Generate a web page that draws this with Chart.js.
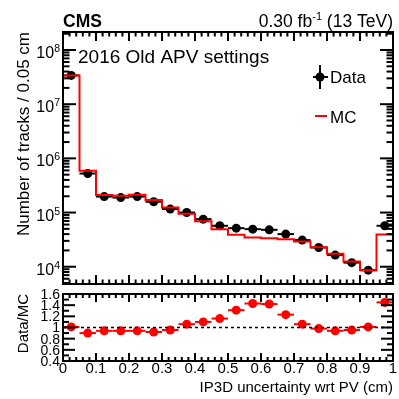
<!DOCTYPE html>
<html>
<head>
<meta charset="utf-8">
<script src="https://cdn.jsdelivr.net/npm/chart.js@4/dist/chart.umd.min.js"></script>
<style>
  html, body { margin: 0; padding: 0; background: #fff; }
  #wrap { position: relative; width: 399px; height: 399px; }
  canvas { position: absolute; left: 0; top: 0; }
</style>
</head>
<body>
<div id="wrap">
  <canvas id="main" width="399" height="399"></canvas>
  <canvas id="ratio" width="399" height="399"></canvas>
</div>
<script>
// bins of IP3D uncertainty (cm), lower edges, width 0.05
const binLow = [0, 0.05, 0.10, 0.15, 0.20, 0.25, 0.30, 0.35, 0.40, 0.45,
                0.50, 0.55, 0.60, 0.65, 0.70, 0.75, 0.80, 0.85, 0.90, 0.95];
const binWidth = 0.05;

// tracks per bin
const dataCounts = [3.4e7, 5.25e5, 1.97e5, 1.89e5, 1.97e5, 1.58e5, 1.16e5, 1.0e5, 7.55e4, 5.7e4,
                    5.15e4, 4.94e4, 4.8e4, 4.0e4, 3.1e4, 2.26e4, 1.64e4, 1.19e4, 8.65e3, 5.7e4];
const mcCounts   = [3.4e7, 5.9e5, 2.1e5, 2.05e5, 2.12e5, 1.7e5, 1.24e5, 0.95e5, 6.9e4, 4.9e4,
                    3.9e4, 3.46e4, 3.37e4, 3.23e4, 2.92e4, 2.3e4, 1.74e4, 1.25e4, 8.6e3, 3.93e4];

// Data/MC ratio per bin
const ratioValues = [1.01, 0.90, 0.94, 0.94, 0.94, 0.92, 0.955, 1.06, 1.10, 1.16,
                     1.31, 1.43, 1.42, 1.23, 1.06, 0.98, 0.94, 0.955, 1.01, 1.45];

// tick labels
const xTickLabels = ['0', '0.1', '0.2', '0.3', '0.4', '0.5', '0.6', '0.7', '0.8', '0.9', '1'];
const yTickExponents = ['4', '5', '6', '7', '8'];
const ratioTickLabels = ['0.4', '0.6', '0.8', '1', '1.2', '1.4', '1.6'];

const FONT = '"Liberation Sans", Arial, Helvetica, sans-serif';

function line(ctx, x1, y1, x2, y2) {
  ctx.beginPath();
  ctx.moveTo(x1, y1);
  ctx.lineTo(x2, y2);
  ctx.stroke();
}

// horizontal bin-width error bars
const errorBars = {
  id: 'errorBars',
  beforeDatasetsDraw(chart, args, opts) {
    const ctx = chart.ctx, xs = chart.scales.x, ys = chart.scales.y;
    ctx.save();
    ctx.strokeStyle = opts.color;
    ctx.lineWidth = 2;
    opts.values.forEach((v, i) => {
      const y = ys.getPixelForValue(v);
      line(ctx, xs.getPixelForValue(binLow[i]), y, xs.getPixelForValue(binLow[i] + binWidth), y);
    });
    ctx.restore();
  }
};

// ROOT style frame with inward ticks on all sides
const frame = {
  id: 'frame',
  afterDraw(chart, args, opts) {
    const ctx = chart.ctx, a = chart.chartArea;
    const xs = chart.scales.x, ys = chart.scales.y;
    ctx.save();
    ctx.strokeStyle = '#000';
    ctx.fillStyle = '#000';
    ctx.lineWidth = 2;
    ctx.strokeRect(a.left, a.top, a.right - a.left, a.bottom - a.top);

    // x ticks: major 0.1, minor 0.02
    for (let k = 0; k <= 50; k++) {
      const px = xs.getPixelForValue(k * 0.02);
      const len = k % 5 === 0 ? opts.xMajor : opts.xMajor / 2;
      line(ctx, px, a.bottom, px, a.bottom - len);
      line(ctx, px, a.top, px, a.top + len);
    }
    // y ticks
    opts.yTicks.forEach(t => {
      const py = ys.getPixelForValue(t.v);
      if (py < a.top - 0.5 || py > a.bottom + 0.5) return;
      const len = t.major ? opts.yMajor : opts.yMajor / 2;
      line(ctx, a.left, py, a.left + len, py);
      line(ctx, a.right, py, a.right - len, py);
    });

    if (opts.draw) opts.draw(ctx, chart);
    ctx.restore();
  }
};

const logTicks = [];
for (let d = 3; d <= 8; d++) {
  for (let m = 1; m <= 9; m++) logTicks.push({ v: m * Math.pow(10, d), major: m === 1 });
}

const ratioTicks = [];
for (let k = 4; k <= 16; k++) ratioTicks.push({ v: k / 10, major: k % 2 === 0 });

function drawMainText(ctx, chart) {
  const ys = chart.scales.y;
  ctx.textBaseline = 'alphabetic';
  // y tick labels 10^n
  yTickExponents.forEach(e => {
    const py = ys.getPixelForValue(Math.pow(10, +e));
    ctx.font = '10.5px ' + FONT;
    const ew = ctx.measureText(e).width;
    ctx.textAlign = 'left';
    ctx.fillText(e, 60 - ew, py + 2);
    ctx.font = '16px ' + FONT;
    ctx.textAlign = 'right';
    ctx.fillText('10', 60 - ew, py + 8);
  });

  // y title
  ctx.save();
  ctx.translate(29, 32);
  ctx.rotate(-Math.PI / 2);
  ctx.font = '17px ' + FONT;
  ctx.textAlign = 'right';
  ctx.fillText('Number of tracks / 0.05 cm', 0, 0);
  ctx.restore();

  // CMS label and luminosity
  ctx.textAlign = 'left';
  ctx.font = 'bold 17.5px ' + FONT;
  ctx.fillText('CMS', 63, 27);

  const p1 = '0.30 fb', p3 = ' (13 TeV)';
  ctx.font = '11px ' + FONT;
  const w2 = ctx.measureText('-1').width;
  ctx.font = '17.5px ' + FONT;
  const w3 = ctx.measureText(p3).width;
  const w1 = ctx.measureText(p1).width;
  const x0 = 393 - w1 - w2 - w3;
  ctx.fillText(p1, x0, 27);
  ctx.font = '11px ' + FONT;
  ctx.fillText('-1', x0 + w1, 20);
  ctx.font = '17.5px ' + FONT;
  ctx.fillText(p3, x0 + w1 + w2, 27);

  ctx.font = '19px ' + FONT;
  ctx.fillText('2016 Old APV settings', 78, 63);

  // legend
  ctx.lineWidth = 2;
  line(ctx, 320, 65, 320, 89);
  line(ctx, 313, 77, 328, 77);
  ctx.beginPath();
  ctx.arc(320, 77, 4.5, 0, Math.PI * 2);
  ctx.fill();
  ctx.font = '17px ' + FONT;
  ctx.fillText('Data', 330, 83);
  ctx.strokeStyle = '#ff0000';
  line(ctx, 315, 116, 327, 116);
  ctx.fillText('MC', 330, 123);
}

function drawRatioText(ctx, chart) {
  const xs = chart.scales.x, ys = chart.scales.y, a = chart.chartArea;
  // dashed line at 1
  ctx.save();
  ctx.setLineDash([3, 3]);
  ctx.lineWidth = 1.5;
  const y1 = ys.getPixelForValue(1);
  line(ctx, a.left, y1, a.right, y1);
  ctx.restore();

  ctx.font = '14px ' + FONT;
  ctx.textAlign = 'right';
  ctx.textBaseline = 'middle';
  ratioTickLabels.forEach(l => {
    ctx.fillText(l, 60, ys.getPixelForValue(+l) + 1);
  });
  ctx.textAlign = 'center';
  ctx.textBaseline = 'alphabetic';
  ctx.font = '15px ' + FONT;
  xTickLabels.forEach(l => {
    ctx.fillText(l, xs.getPixelForValue(+l), 373);
  });

  ctx.textAlign = 'right';
  ctx.font = '15px ' + FONT;
  ctx.fillText('IP3D uncertainty wrt PV (cm)', 393, 392);

  ctx.save();
  ctx.translate(28, 294);
  ctx.rotate(-Math.PI / 2);
  ctx.textAlign = 'right';
  ctx.fillText('Data/MC', 0, 0);
  ctx.restore();
}

const base = {
  responsive: false,
  animation: false,
  devicePixelRatio: 1,
  events: []
};

// MC step histogram points at lower edges plus the upper edge of the last bin
const mcSteps = binLow.map((x, i) => ({ x: x, y: mcCounts[i] }));
mcSteps.push({ x: binLow[binLow.length - 1] + binWidth, y: mcCounts[mcCounts.length - 1] });

new Chart(document.getElementById('main'), {
  type: 'scatter',
  data: {
    datasets: [
      {
        type: 'line',
        label: 'MC',
        data: mcSteps,
        stepped: 'before',
        borderColor: '#ff0000',
        borderWidth: 2,
        pointRadius: 0,
        fill: false
      },
      {
        label: 'Data',
        data: binLow.map((x, i) => ({ x: x + binWidth / 2, y: dataCounts[i] })),
        backgroundColor: '#000',
        borderColor: '#000',
        pointRadius: 4.5,
        borderWidth: 0
      }
    ]
  },
  options: Object.assign({}, base, {
    layout: { padding: { left: 63, right: 6, top: 32, bottom: 115 } },
    scales: {
      x: { type: 'linear', min: 0, max: 1, display: false },
      y: { type: 'logarithmic', min: 4.8e3, max: 2.15e8, display: false }
    },
    plugins: {
      legend: { display: false },
      tooltip: { enabled: false },
      errorBars: { values: dataCounts, color: '#000' },
      frame: { xMajor: 9, yMajor: 13, yTicks: logTicks, draw: drawMainText }
    }
  }),
  plugins: [errorBars, frame]
});

new Chart(document.getElementById('ratio'), {
  type: 'scatter',
  data: {
    datasets: [
      {
        label: 'Data/MC',
        data: binLow.map((x, i) => ({ x: x + binWidth / 2, y: ratioValues[i] })),
        backgroundColor: '#ff0000',
        borderColor: '#ff0000',
        pointRadius: 4.5,
        borderWidth: 0
      }
    ]
  },
  options: Object.assign({}, base, {
    layout: { padding: { left: 63, right: 6, top: 294, bottom: 38 } },
    scales: {
      x: { type: 'linear', min: 0, max: 1, display: false },
      y: { type: 'linear', min: 0.4, max: 1.6, display: false }
    },
    plugins: {
      legend: { display: false },
      tooltip: { enabled: false },
      errorBars: { values: ratioValues, color: '#ff0000' },
      frame: { xMajor: 8, yMajor: 12, yTicks: ratioTicks, draw: drawRatioText }
    }
  }),
  plugins: [errorBars, frame]
});
</script>
</body>
</html>
